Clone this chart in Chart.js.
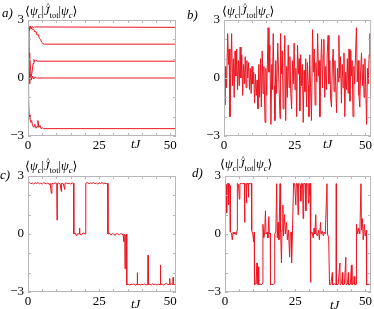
<!DOCTYPE html>
<html>
<head>
<meta charset="utf-8">
<script src="https://cdn.jsdelivr.net/npm/chart.js@4/dist/chart.umd.min.js"></script>
<style>
  body { margin: 0; background: #fff; width: 374px; height: 309px; overflow: hidden; position: relative;
         font-family: "Liberation Serif", "DejaVu Serif", serif; color: #000; }
  canvas { position: absolute; }
  .lbl { position: absolute; font-style: italic; font-size: 13px; line-height: 13px; }
  .ttl { position: absolute; font-size: 12.5px; line-height: 13px; white-space: nowrap; }
  .ttl sub { font-size: 8.5px; vertical-align: -3px; line-height: 0; }
  .hat { position: relative; display: inline-block; font-style: italic; }
  .hat span { position: absolute; left: 2px; top: -5px; font-style: normal; font-size: 9px; }
</style>
</head>
<body>
<canvas id="pa" width="187" height="155" style="left:0;top:0"></canvas>
<canvas id="pb" width="187" height="155" style="left:187px;top:0"></canvas>
<canvas id="pc" width="187" height="154" style="left:0;top:155px"></canvas>
<canvas id="pd" width="187" height="154" style="left:187px;top:155px"></canvas>

<div class="lbl" style="left:2px;top:6px">a)</div>
<div class="lbl" style="left:187px;top:8px">b)</div>
<div class="lbl" style="left:0;top:168px">c)</div>
<div class="lbl" style="left:192px;top:166px">d)</div>

<div class="ttl" style="left:25px;top:5px">⟨<i>ψ</i><sub><i>c</i></sub>|<span class="hat">J<span>^</span></span><sub>tot</sub>|<i>ψ</i><sub><i>c</i></sub>⟩</div>
<div class="ttl" style="left:222px;top:5px">⟨<i>ψ</i><sub><i>c</i></sub>|<span class="hat">J<span>^</span></span><sub>tot</sub>|<i>ψ</i><sub><i>c</i></sub>⟩</div>
<div class="ttl" style="left:25px;top:160px">⟨<i>ψ</i><sub><i>c</i></sub>|<span class="hat">J<span>^</span></span><sub>tot</sub>|<i>ψ</i><sub><i>c</i></sub>⟩</div>
<div class="ttl" style="left:220px;top:158px">⟨<i>ψ</i><sub><i>c</i></sub>|<span class="hat">J<span>^</span></span><sub>tot</sub>|<i>ψ</i><sub><i>c</i></sub>⟩</div>

<div class="lbl" style="left:131px;top:137px">tJ</div>
<div class="lbl" style="left:323px;top:137px">tJ</div>
<div class="lbl" style="left:131px;top:297px">tJ</div>
<div class="lbl" style="left:330px;top:298px">tJ</div>

<script>
// tick labels
const xLabels = [0, 25, 50];
const yLabels = [-3, 0, 3];

// a) five trajectories settling on fixed levels
const tA1 = [0, 0.3, 0.6, 0.9, 1.2, 1.5, 1.9, 2.3, 52];
const vA1 = [2.62, 2.7, 2.5, 2.68, 2.55, 2.66, 2.6, 2.64, 2.62];
const tA2 = [0, 0.4, 0.8, 1.2, 1.6, 2.0, 2.4, 2.8, 3.2, 3.6, 4.0, 4.4, 4.8, 5.3, 5.8, 52];
const vA2 = [2.62, 2.45, 2.65, 2.6, 2.5, 2.52, 2.38, 2.4, 2.22, 2.25, 2.05, 2.0, 1.85, 1.78, 1.75, 1.75];
const tA3 = [0, 0.3, 0.6, 0.9, 1.2, 1.5, 1.8, 2.1, 2.4, 2.8, 3.2, 52];
const vA3 = [2.62, 1.2, -0.3, 0.2, 0.1, 0.4, 0.75, 0.95, 0.85, 0.92, 0.87, 0.87];
const tA4 = [0, 0.3, 0.6, 0.9, 1.2, 1.6, 2.0, 2.5, 3.0, 52];
const vA4 = [0, 1.0, 1.3, 0.4, -0.1, 0.1, -0.05, 0.05, 0, 0];
const tA5 = [0, 0.2, 0.4, 0.7, 1.0, 1.3, 1.6, 2.0, 2.4, 2.8, 3.2, 3.5, 3.8, 4.2, 4.6, 5.0, 5.4, 52];
const vA5 = [0, -1.0, -1.9, -2.1, -2.3, -2.2, -2.45, -2.55, -2.4, -2.6, -2.5, -2.2, -2.55, -2.45, -2.62, -2.58, -2.62, -2.62];

// b) fast oscillating trajectory
const tB = [0, 0.3, 0.6, 0.9, 1.3, 1.6, 1.8, 2.1, 2.4, 2.7, 3.0, 3.3, 3.6, 3.9, 4.2, 4.5, 4.8, 5.1, 5.4, 5.7,
  6.0, 6.3, 6.6, 6.9, 7.2, 7.5, 7.8, 8.1, 8.4, 8.7, 9.0, 9.3, 9.6, 9.9, 10.2, 10.5, 10.8, 11.1, 11.4, 11.7,
  12.0, 12.3, 12.6, 12.9, 13.2, 13.5, 13.8, 14.1, 14.5, 14.8, 15.1, 15.6, 15.9, 16.2, 16.6, 16.9, 17.1, 17.4, 17.7, 18.0,
  18.3, 18.6, 19.0, 19.4, 19.8, 20.0, 20.3, 20.6, 20.9, 21.2, 21.5, 21.8, 22.1, 22.4, 22.7, 23.0, 23.3, 23.6, 23.9, 24.2,
  24.5, 24.8, 25.1, 25.4, 25.7, 26.0, 26.3, 26.6, 26.8, 27.1, 27.4, 27.7, 28.0, 28.3, 28.6, 28.9, 29.2, 29.5, 29.8, 30.0,
  30.3, 30.6, 30.9, 31.3, 31.6, 31.9, 32.2, 32.5, 32.8, 33.1, 33.4, 33.6, 33.9, 34.2, 34.5, 34.8, 35.1, 35.3, 35.6, 35.9,
  36.2, 36.5, 36.8, 37.1, 37.4, 37.7, 38.0, 38.3, 38.6, 38.9, 39.2, 39.5, 39.8, 40.1, 40.4, 40.6, 40.9, 41.2, 41.5, 41.8,
  42.1, 42.4, 42.7, 43.0, 43.3, 43.6, 43.9, 44.2, 44.5, 44.8, 45.1, 45.3, 45.6, 45.9, 46.2, 46.5, 46.8, 47.1, 47.4, 47.7,
  48.0, 48.3, 48.6, 48.9, 49.2, 49.5, 49.8, 50.1, 50.4, 50.7, 51.0, 51.3, 51.6, 51.9, 52.0];
const vB = [0.3, -1.4, 0.6, -0.5, 2.3, 0.7, 1.5, -2.0, 0.2, 2.3, -0.4, 1.0, -1.0, 1.4, 0.1, 1.5, -0.6, 0.9, -0.4, 1.6,
  0.0, 1.2, -0.9, 0.7, -0.3, 1.1, -0.5, 0.9, 0.0, 0.8, -0.6, 0.5, -0.8, 0.6, -0.3, 0.3, -1.3, 0.2, -0.9, -0.1,
  -1.6, 0.7, -1.0, 1.0, -1.5, 1.4, -0.8, 0.6, -2.3, 0.5, -0.9, 2.6, 0.3, 1.7, -2.4, 0.7, -0.6, 2.3, -0.4, -2.2,
  0.9, -0.8, 1.8, -0.2, -2.1, 2.3, 0.2, 1.4, -1.6, 0.4, 2.2, -2.2, 0.6, -1.0, 1.7, -0.5, 1.1, -0.8, -1.6, 0.9,
  -0.3, 1.8, -0.6, 0.5, -2.0, 1.7, 0.2, 1.0, -1.7, 1.2, -0.4, 0.7, -2.3, 0.4, -0.7, 1.0, -1.5, 0.8, -0.4, -2.0,
  1.2, -0.5, -2.2, 2.5, 0.3, 1.5, -1.4, 0.8, -0.2, 2.3, 0.1, 0.9, -2.0, 0.6, 2.0, -0.5, 1.2, 2.0, -1.0, 0.6,
  -0.6, 1.3, 2.2, -0.3, 0.9, -1.1, -1.5, 0.8, 1.5, -0.7, 0.9, -0.4, -1.8, 0.5, -0.2, 2.2, 0.0, 1.1, -1.3, 0.7,
  -0.5, 1.3, -2.0, 0.3, -0.6, 1.0, -0.8, 1.5, -1.2, 1.4, 0.1, 0.9, -2.0, 0.6, -0.3, 1.2, 2.6, -0.2, 0.9, -0.9,
  -1.5, 0.4, 1.3, -0.4, 0.7, -1.0, 1.0, -0.5, -2.4, 0.5, -0.3, 1.2, 2.3, -1.0, 1.0];

// c) jumps between plateaus
const tC = [0, 0.05, 0.6, 1.0, 1.5, 2.0, 2.5, 3.0, 3.5, 4.0, 4.5, 5.0, 5.5, 6.0, 6.5, 7.0, 7.5, 7.8, 8.2, 8.4,
  9.0, 9.5, 10.1, 10.2, 10.3, 10.8, 11.3, 11.7, 11.8, 12.4, 12.9, 13.0, 13.5, 14.0, 14.5, 15.0, 15.5, 16.0, 16.1, 16.6,
  17.0, 17.5, 18.0, 18.1, 18.2, 18.8, 19.3, 20.2, 20.3, 20.8, 21.5, 22.0, 22.5, 23.0, 23.5, 24.0, 24.5, 25.0, 25.5, 26.0,
  26.5, 27.0, 27.5, 28.0, 28.1, 28.6, 29.1, 29.6, 30.1, 30.6, 31.1, 31.6, 32.1, 32.6, 33.1, 33.5, 33.6, 33.7, 34.0, 34.1,
  34.2, 34.6, 34.7, 35.2, 35.7, 36.2, 36.7, 37.2, 37.7, 38.3, 38.4, 38.5, 39.0, 39.5, 40.0, 40.5, 41.0, 41.5, 42.1, 42.2,
  42.3, 42.8, 43.3, 43.8, 44.3, 44.8, 45.3, 45.8, 46.4, 46.5, 46.6, 47.1, 47.6, 48.1, 48.6, 49.1, 49.7, 49.8, 49.9, 50.4,
  50.9, 51.0, 51.1, 51.6, 52.0];
const vC = [0.0, 2.62, 2.66, 2.6, 2.64, 2.58, 2.65, 2.62, 2.66, 2.6, 2.63, 2.58, 2.65, 2.62, 2.6, 2.64, 2.55, 2.62, 2.1, 2.62,
  2.6, 2.64, 2.62, 0.72, 2.6, 2.64, 2.58, 2.2, 2.62, 2.6, 2.3, 2.62, 2.64, 2.6, 2.62, 2.58, 2.64, 2.62, 0.0, 0.05,
  -0.1, 0.02, 0.0, 0.3, 0.0, -0.05, 0.05, 0.0, 2.62, 2.66, 2.6, 2.64, 2.62, 2.66, 2.6, 2.64, 2.58, 2.64, 2.62, 2.66,
  2.6, 2.63, 2.6, 2.62, 0.0, 0.04, -0.05, 0.02, 0.0, -0.08, 0.03, 0.0, -0.04, 0.02, 0.0, -0.1, -0.4, 0.0, -0.05, -1.8,
  -0.1, 0.0, -2.62, -2.6, -2.64, -2.6, -2.62, -2.58, -2.64, -2.6, -2.0, -2.62, -2.6, -2.64, -2.6, -2.62, -2.58, -2.64, -2.6, -1.1,
  -2.62, -2.6, -2.64, -2.58, -2.62, -2.6, -2.64, -2.6, -2.62, -1.6, -2.62, -2.58, -2.64, -2.6, -2.55, -2.62, -2.6, -2.3, -2.62, -2.58,
  -2.62, -2.25, -2.6, -2.62, -2.6];

// d) frequent jumps between plateaus
const tD = [0, 0.05, 0.4, 0.6, 0.8, 1.1, 1.3, 1.5, 1.8, 1.9, 2.3, 2.6, 2.9, 3.2, 3.6, 4.0, 4.3, 4.4, 4.8, 5.1,
  5.3, 5.8, 6.2, 6.9, 7.0, 7.1, 7.5, 7.6, 7.8, 8.2, 8.3, 8.5, 9.0, 9.4, 9.5, 9.9, 10.2, 10.4, 10.5, 11.0,
  11.4, 11.5, 11.9, 12.0, 12.5, 13.0, 13.4, 13.5, 13.8, 14.1, 14.4, 14.6, 15.0, 15.3, 15.6, 15.8, 16.1, 16.2, 16.7, 17.2,
  17.6, 17.7, 18.1, 18.4, 18.6, 18.9, 19.2, 19.6, 19.8, 20.1, 20.3, 20.6, 20.8, 21.2, 21.5, 21.9, 22.2, 22.6, 23.0, 23.2,
  23.5, 23.7, 24.0, 24.4, 24.8, 25.2, 25.4, 25.8, 26.0, 26.2, 26.8, 27.0, 27.2, 27.6, 27.8, 28.0, 28.5, 28.8, 29.0, 29.5,
  29.7, 29.9, 30.2, 30.3, 30.4, 30.6, 31.0, 31.4, 31.7, 32.0, 32.3, 32.5, 32.9, 33.3, 33.6, 34.0, 34.2, 34.6, 35.0, 35.4,
  35.7, 36.3, 36.5, 36.9, 37.2, 37.7, 38.2, 38.3, 38.9, 39.5, 39.6, 39.7, 40.3, 40.9, 41.0, 41.5, 41.8, 41.9, 42.5, 43.0,
  43.1, 43.6, 43.9, 44.0, 44.6, 45.0, 45.2, 45.8, 46.0, 46.2, 46.7, 46.8, 47.2, 47.6, 48.0, 48.4, 48.6, 48.9, 49.2, 49.6,
  49.9, 50.3, 50.4, 51.0, 51.5, 51.9, 52.0];
const vD = [0.0, 2.62, 2.55, 1.1, 2.6, 2.62, 1.5, 2.6, 2.5, 0.1, 0.05, -0.3, 0.1, 0.0, 0.08, -0.05, 0.2, 2.62, 2.55, 1.8,
  2.6, 2.62, 2.6, 2.62, 0.6, 2.6, 2.55, 1.6, 2.62, 2.6, 1.9, 2.62, 2.6, 2.62, 0.2, 0.0, -0.4, 0.1, -2.62, -2.58,
  -1.5, -2.6, -1.7, -2.62, -2.6, -2.62, -2.55, 0.5, -0.2, 0.0, 1.2, 0.0, 0.1, -0.2, 0.9, 0.0, 0.05, -2.62, -2.6, -2.62,
  -2.55, 0.0, 0.1, 2.6, -0.2, 0.6, -0.3, 2.6, 0.1, -1.5, 0.2, 1.5, -0.1, 1.0, 0.0, 0.6, -0.3, 0.2, -1.2, 0.0,
  0.1, -1.5, 0.0, 2.62, 2.6, 1.5, 2.62, 2.6, 1.0, 2.62, 2.55, 1.7, 2.62, 2.6, 0.8, 2.62, 2.6, 1.2, 2.62, 2.58,
  1.6, 2.62, 2.0, 2.62, -2.5, 0.0, 0.1, -0.2, 0.3, 0.0, 1.0, 0.0, -0.1, 0.2, -0.3, 0.6, 0.0, 0.15, -0.1, 0.1,
  0.0, 2.6, 0.0, -0.2, -2.62, -2.6, -2.0, -2.62, -2.58, -2.62, 2.6, -2.62, -2.6, -1.5, -2.62, -2.55, -2.0, -2.62, -2.6, -1.2,
  -2.62, -2.58, -2.0, -2.62, -2.6, -1.6, -2.62, -2.55, -2.2, -2.62, -2.6, 0.5, 0.0, 0.3, 0.0, 2.6, 0.2, 0.8, -0.3, 0.5,
  -0.1, 0.2, -2.62, -2.6, -2.62, -2.55, -1.0];

const RED = 'rgb(236, 22, 34)';
const AXIS = '#b8b8b8';
const FONT = { family: '"Liberation Serif", "DejaVu Serif", serif', size: 13 };

function points(t, v) {
    return t.map((x, i) => ({ x: x, y: v[i] }));
}

// box round the plot and short inward ticks on all four sides
const boxPlugin = {
    id: 'box',
    afterDraw(chart) {
        const { ctx, chartArea: a, scales } = chart;
        ctx.save();
        ctx.strokeStyle = AXIS;
        ctx.lineWidth = 1;
        ctx.strokeRect(a.left + 0.5, a.top + 0.5, a.right - a.left - 1, a.bottom - a.top - 1);
        ctx.beginPath();
        scales.x.ticks.forEach(t => {
            const px = Math.round(scales.x.getPixelForValue(t.value)) + 0.5;
            ctx.moveTo(px, a.bottom); ctx.lineTo(px, a.bottom - 3);
            ctx.moveTo(px, a.top); ctx.lineTo(px, a.top + 3);
        });
        scales.y.ticks.forEach(t => {
            const py = Math.round(scales.y.getPixelForValue(t.value)) + 0.5;
            ctx.moveTo(a.left, py); ctx.lineTo(a.left + 3, py);
            ctx.moveTo(a.right, py); ctx.lineTo(a.right - 3, py);
        });
        ctx.stroke();
        ctx.restore();
    }
};

function makePanel(id, series, box) {
    new Chart(document.getElementById(id), {
        type: 'line',
        data: {
            datasets: series.map(s => ({
                data: points(s[0], s[1]),
                borderColor: RED,
                borderWidth: 1,
                pointRadius: 0,
                tension: 0,
                fill: false
            }))
        },
        options: {
            responsive: false,
            animation: false,
            layout: { padding: { left: 0, right: box.right, top: box.top, bottom: 0 } },
            plugins: { legend: { display: false }, tooltip: { enabled: false } },
            scales: {
                x: {
                    type: 'linear',
                    min: 0,
                    max: 52,
                    grid: { display: false, drawTicks: false },
                    border: { display: false },
                    ticks: {
                        stepSize: 5,
                        includeBounds: false,
                        autoSkip: false,
                        maxRotation: 0,
                        padding: 2,
                        color: '#000',
                        font: FONT,
                        callback: v => xLabels.includes(v) ? String(v) : ''
                    },
                    afterFit: s => { s.height = box.bottom; }
                },
                y: {
                    min: -3,
                    max: 3,
                    grid: { display: false, drawTicks: false },
                    border: { display: false },
                    ticks: {
                        stepSize: 1,
                        autoSkip: false,
                        padding: 4,
                        color: '#000',
                        font: FONT,
                        callback: v => yLabels.includes(v) ? (v < 0 ? '\u2212' + Math.abs(v) : String(v)) : ''
                    },
                    afterFit: s => { s.width = box.left; }
                }
            }
        },
        plugins: [boxPlugin]
    });
}

makePanel('pa', [[tA1, vA1], [tA2, vA2], [tA3, vA3], [tA4, vA4], [tA5, vA5]], { left: 28, right: 11, top: 20, bottom: 19 });
makePanel('pb', [[tB, vB]], { left: 37, right: 1, top: 20, bottom: 19 });
makePanel('pc', [[tC, vC]], { left: 28, right: 11, top: 21, bottom: 17 });
makePanel('pd', [[tD, vD]], { left: 38, right: 1, top: 21, bottom: 17 });
</script>
</body>
</html>
